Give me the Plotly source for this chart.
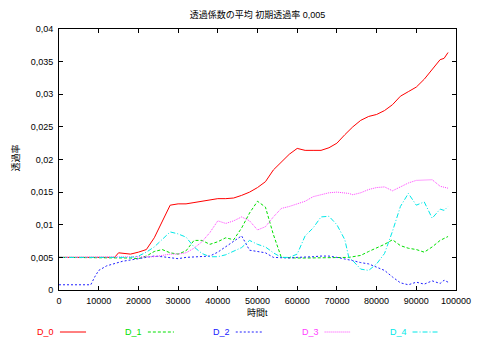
import plotly.graph_objects as go

# ---------------- data ----------------
x_time = [0, 2000, 4000, 6000, 8000, 9000, 10000, 12000, 14000, 15000, 16000, 18000,
          20000, 22000, 24000, 26000, 28000, 30000, 32000, 34000, 36000, 38000,
          40000, 42000, 44000, 46000, 48000, 50000, 52000, 54000, 56000, 58000,
          60000, 62000, 64000, 66000, 68000, 70000, 72000, 73000, 74000, 76000,
          78000, 80000, 82000, 84000, 86000, 88000, 90000, 92000, 94000, 96000,
          97000, 98000]

d0 = [0.005, 0.005, 0.005, 0.005, 0.005, 0.005, 0.005, 0.005, 0.005, 0.0057, 0.0056, 0.0055,
      0.0058, 0.0062, 0.0080, 0.0105, 0.0130, 0.0132, 0.0132, 0.0134, 0.0136, 0.0138,
      0.0140, 0.0140, 0.0141, 0.0145, 0.0150, 0.0157, 0.0166, 0.0184, 0.0196, 0.0208,
      0.0217, 0.0214, 0.0214, 0.0214, 0.0218, 0.0225, 0.0238, 0.0244, 0.0250, 0.0260,
      0.0266, 0.0269, 0.0275, 0.0284, 0.0297, 0.0304, 0.0311, 0.0323, 0.0338, 0.0353,
      0.0355, 0.0364]

d1 = [0.005, 0.005, 0.005, 0.005, 0.005, 0.005, 0.005, 0.005, 0.005, 0.005, 0.005, 0.0049,
      0.0048, 0.0052, 0.0059, 0.0062, 0.0057, 0.0055, 0.0060, 0.0076, 0.0076, 0.0070,
      0.0074, 0.0080, 0.0077, 0.0095, 0.0118, 0.0136, 0.0127, 0.0085, 0.0050, 0.0049,
      0.0049, 0.0049, 0.0049, 0.0049, 0.0049, 0.0049, 0.0050, 0.0050, 0.0051, 0.0053,
      0.0059, 0.0064, 0.0070, 0.0077, 0.0068, 0.0064, 0.0062, 0.0058, 0.0066, 0.0076,
      0.0079, 0.0082]

d2 = [0.0008, 0.0008, 0.0008, 0.0008, 0.0008, 0.0020, 0.0030, 0.0037, 0.0041, 0.0043, 0.0044, 0.0046,
      0.0048, 0.0050, 0.0052, 0.0051, 0.0050, 0.0048, 0.0050, 0.0051, 0.0051, 0.0052,
      0.0058, 0.0066, 0.0075, 0.0083, 0.0061, 0.0059, 0.0057, 0.0050, 0.0049, 0.0049,
      0.0050, 0.0050, 0.0051, 0.0052, 0.0052, 0.0050, 0.0048, 0.0047, 0.0045, 0.0042,
      0.0040, 0.0035, 0.0030, 0.0020, 0.0011, 0.0008, 0.0012, 0.0009, 0.0014, 0.0010,
      0.0015, 0.0012]

d3 = [0.005, 0.005, 0.005, 0.005, 0.005, 0.005, 0.005, 0.005, 0.005, 0.005, 0.005, 0.005,
      0.005, 0.005, 0.0051, 0.0053, 0.0055, 0.0055, 0.0057, 0.0064, 0.0074, 0.0088,
      0.0106, 0.0102, 0.0106, 0.0112, 0.0106, 0.0092, 0.0097, 0.0112, 0.0125, 0.0128,
      0.0132, 0.0136, 0.0143, 0.0146, 0.0149, 0.0150, 0.0149, 0.0148, 0.0146, 0.0149,
      0.0154, 0.0157, 0.0158, 0.0152, 0.0158, 0.0164, 0.0168, 0.0169, 0.0169, 0.0159,
      0.0157, 0.0156]

d4 = [0.005, 0.005, 0.005, 0.005, 0.005, 0.005, 0.005, 0.005, 0.005, 0.005, 0.005, 0.005,
      0.0052, 0.0058, 0.0066, 0.0078, 0.0089, 0.0086, 0.0081, 0.0066, 0.0056, 0.0051,
      0.0051, 0.0054, 0.0060, 0.0065, 0.0076, 0.0070, 0.0066, 0.0057, 0.0050, 0.0050,
      0.0055, 0.0083, 0.0095, 0.0112, 0.0113, 0.0100, 0.0077, 0.0050, 0.0045, 0.0032,
      0.0030, 0.0040, 0.0056, 0.0090, 0.0128, 0.0148, 0.0130, 0.0135, 0.0110, 0.0124,
      0.0122, 0.0128]

series_names = ["D_0", "D_1", "D_2", "D_3", "D_4"]
series_values = [d0, d1, d2, d3, d4]

x_tick_vals = [0, 10000, 20000, 30000, 40000, 50000, 60000, 70000, 80000, 90000, 100000]
x_tick_text = ["0", "10000", "20000", "30000", "40000", "50000", "60000", "70000",
               "80000", "90000", "100000"]
y_tick_vals = [0, 0.005, 0.01, 0.015, 0.02, 0.025, 0.03, 0.035, 0.04]
y_tick_text = ["0", "0,005", "0,01", "0,015", "0,02", "0,025", "0,03", "0,035", "0,04"]

title_text = "透過係数の平均 初期透過率 0,005"
x_title = "時間t"
y_title = "透過率"

# ---------------- styles ----------------
colors = ["#ff0000", "#00e000", "#2020ff", "#ff40ff", "#00e8e8"]
dashes = ["solid", "3px,2px", "2px,2px", "1px,1px", "5px,2px,1px,2px"]
FONT = "Liberation Sans, Noto Sans CJK JP, sans-serif"

W, H = 483, 339
ML, MR, MT, MB = 59, 13, 29, 49
PW = W - ML - MR
PH = H - MT - MB

fig = go.Figure()
for name, vals, c, d in zip(series_names, series_values, colors, dashes):
    fig.add_trace(go.Scatter(x=x_time, y=vals, mode="lines", name=name,
                             line=dict(color=c, width=1, dash=d), showlegend=False))

# manual gnuplot-style legend (text then line sample)
legend_sample_start = [60, 151, 242, 334, 425]
legend_y_px = 332
for name, c, d, sx in zip(series_names, colors, dashes, legend_sample_start):
    yp = (H - MB - legend_y_px) / PH
    fig.add_annotation(x=(sx - 4 - ML) / PW, y=yp, xref="paper", yref="paper",
                       text=name, showarrow=False, xanchor="right", yanchor="middle",
                       font=dict(family=FONT, size=9, color=c))
    fig.add_shape(type="line", xref="paper", yref="paper",
                  x0=(sx - ML) / PW, x1=(sx + 27 - ML) / PW, y0=yp, y1=yp,
                  line=dict(color=c, width=1, dash=d))

fig.add_annotation(x=0.5, y=(H - MB - 313) / PH, xref="paper", yref="paper",
                   text=x_title, showarrow=False, xanchor="center", yanchor="middle",
                   font=dict(family=FONT, size=9, color="black"))
fig.add_annotation(x=(14 - ML) / PW, y=(H - MB - 158) / PH, xref="paper", yref="paper",
                   text=y_title, showarrow=False, xanchor="center", yanchor="middle",
                   textangle=-90,
                   font=dict(family=FONT, size=9, color="black"))

axis_common = dict(showline=True, linecolor="black", linewidth=1, mirror="allticks",
                   ticks="inside", ticklen=4, tickcolor="black", tickwidth=1,
                   showgrid=False, zeroline=False, ticklabeloverflow="allow",
                   tickfont=dict(family=FONT, size=9, color="black"))

fig.update_layout(
    width=W, height=H,
    margin=dict(l=ML, r=MR, t=MT, b=MB),
    paper_bgcolor="white", plot_bgcolor="white",
    title=dict(text=title_text, x=0.5, xref="paper", xanchor="center",
               y=1 - 15 / H, yref="container", yanchor="middle",
               font=dict(family=FONT, size=9, color="black")),
    xaxis=dict(range=[0, 100000], tickvals=x_tick_vals, ticktext=x_tick_text,
               ticklabelstandoff=2, **axis_common),
    yaxis=dict(range=[0, 0.04], tickvals=y_tick_vals, ticktext=y_tick_text,
               ticklabelstandoff=3, **axis_common),
    showlegend=False,
)

fig.write_html("out.html", config={"displayModeBar": False},
               post_script="document.body.style.margin='0px';document.body.style.padding='0px';")
